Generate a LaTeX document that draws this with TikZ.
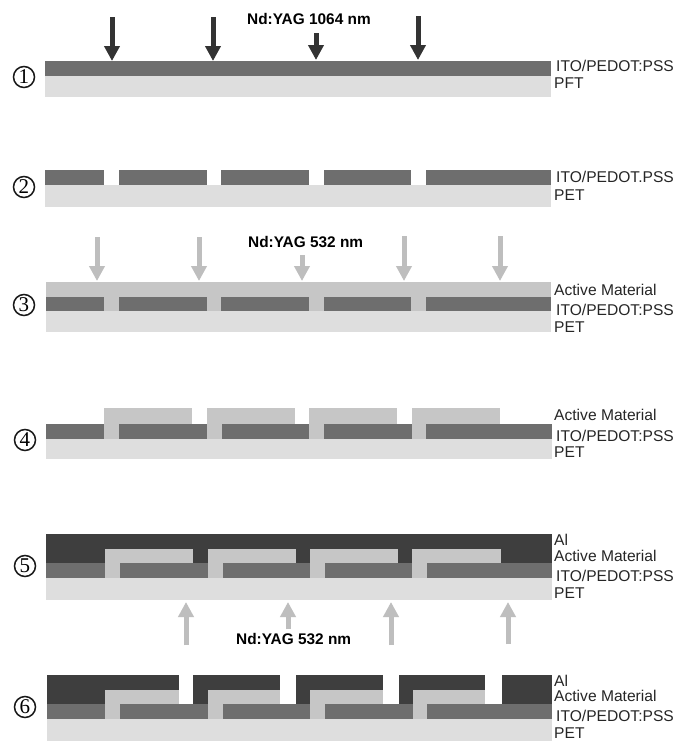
\documentclass[tikz,border=0pt]{standalone}
\usepackage{fontspec}
\setmainfont{Liberation Sans}
\newfontfamily\numfont{Liberation Serif}
\usetikzlibrary{arrows.meta}
\definecolor{itoc}{HTML}{6E6E6E}
\definecolor{petc}{HTML}{DEDEDE}
\definecolor{actc}{HTML}{C6C6C6}
\definecolor{alc}{HTML}{3E3E3E}
\definecolor{darkarrow}{HTML}{333333}
\definecolor{lightarrow}{HTML}{BEBEBE}
\tikzset{
  ito/.style={fill=itoc},
  pet/.style={fill=petc},
  act/.style={fill=actc},
  alu/.style={fill=alc},
  beamdark/.style={draw=darkarrow,line width=5pt,-{Triangle[width=15pt,length=15pt]}},
  beamlight/.style={draw=lightarrow,line width=5pt,-{Triangle[width=15pt,length=15pt]}},
  lab/.style={anchor=west,inner sep=0pt,font=\fontsize{15.6}{16}\selectfont,text=black!85},
  laser/.style={anchor=west,inner sep=0pt,font=\fontsize{15.4}{16}\selectfont\bfseries},
  num/.style={circle,draw=black!90,line width=1.5pt,minimum size=21pt,inner sep=0pt,font=\fontsize{21}{21}\selectfont\numfont}
}
\begin{document}
\begin{tikzpicture}[x=1pt,y=-1pt]
\useasboundingbox[fill=white] (0,0) rectangle (676,742);

% Row 1
\fill[pet] (45,76) rectangle (551,97);
\fill[ito] (45,61) rectangle (551,75.5);
\node[num] (n1) at (24,77) {1};
\node[lab] (l1a) at (556,66) {ITO/PEDOT:PSS};
\node[lab] (l1b) at (554,83) {PFT};
\node[laser] (y1) at (247,19) {Nd:YAG 1064 nm};
\foreach \x/\t/\e in {112/17/61,213/17/61,316/33/60,418/16/60}
  \draw[beamdark] (\x,\t) -- (\x,\e);

% Row 2
\fill[pet] (45,184.5) rectangle (551,207);
\foreach \a/\b in {45/104,119/207,221/309,324/411,426/551}
  \fill[ito] (\a,170) rectangle (\b,184.5);
\node[num] (n2) at (24,187) {2};
\node[lab] (l2a) at (556,177) {ITO/PEDOT.PSS};
\node[lab] (l2b) at (554,195) {PET};

% Row 3
\fill[pet] (46,311) rectangle (551,332);
\fill[act] (46,282) rectangle (551,311);
\foreach \a/\b in {46/104,119/207,221/309,324/411,426/551}
  \fill[ito] (\a,296.5) rectangle (\b,311);
\node[num] (n3) at (24,305) {3};
\node[lab] (l3a) at (554,290) {Active Material};
\node[lab] (l3b) at (556,310) {ITO/PEDOT:PSS};
\node[lab] (l3c) at (554,327) {PET};
\node[laser] (y3) at (248,242) {Nd:YAG 532 nm};
\foreach \x/\t in {97/237,199/237,302/255,404/236,500/236}
  \draw[beamlight] (\x,\t) -- (\x,281);

% Row 4
\fill[pet] (46,438.5) rectangle (552,459);
\foreach \a/\b in {46/104,119/207,222/309,324/412,426/552}
  \fill[ito] (\a,424) rectangle (\b,438.5);
\foreach \a/\b/\c in {104/192/119,207/295/222,309/397/324,412/500/426}{
  \fill[act] (\a,408) rectangle (\b,424);
  \fill[act] (\a,424) rectangle (\c,438.5);
}
\node[num] (n4) at (25,440) {4};
\node[lab] (l4a) at (554,415) {Active Material};
\node[lab] (l4b) at (556,436) {ITO/PEDOT:PSS};
\node[lab] (l4c) at (554,452) {PET};

% Row 5
\fill[pet] (46,578) rectangle (552,600);
\fill[alu] (46,534) rectangle (552,563);
\foreach \a/\b in {46/105,120/208,223/310,325/412,427/552}
  \fill[ito] (\a,563) rectangle (\b,578);
\foreach \a/\b/\c in {105/193/120,208/296/223,310/398/325,412/501/427}{
  \fill[act] (\a,549) rectangle (\b,563);
  \fill[act] (\a,563) rectangle (\c,578);
}
\node[num] (n5) at (25,566) {5};
\node[lab] (l5a) at (554,540) {Al};
\node[lab] (l5b) at (554,556) {Active Material};
\node[lab] (l5c) at (556,576) {ITO/PEDOT:PSS};
\node[lab] (l5d) at (554,593) {PET};
\foreach \x/\b in {186/645,288/629,391/645,508/644}
  \draw[beamlight] (\x,\b) -- (\x,602);
\node[laser] (y5) at (236,639) {Nd:YAG 532 nm};

% Row 6
\fill[pet] (47,719) rectangle (552,741);
\foreach \a/\b in {47/179,193/280,296/383,399/485,502/552}
  \fill[alu] (\a,675) rectangle (\b,704);
\foreach \a/\b in {47/105,120/208,223/310,325/413,427/552}
  \fill[ito] (\a,704) rectangle (\b,719);
\foreach \a/\b/\c in {105/179/120,208/280/223,310/383/325,413/485/427}{
  \fill[act] (\a,690) rectangle (\b,704);
  \fill[act] (\a,704) rectangle (\c,719);
}
\node[num] (n6) at (25,707) {6};
\node[lab] (l6a) at (554,681) {Al};
\node[lab] (l6b) at (554,696) {Active Material};
\node[lab] (l6c) at (556,716) {ITO/PEDOT:PSS};
\node[lab] (l6d) at (554,733) {PET};
\end{tikzpicture}
\end{document}
